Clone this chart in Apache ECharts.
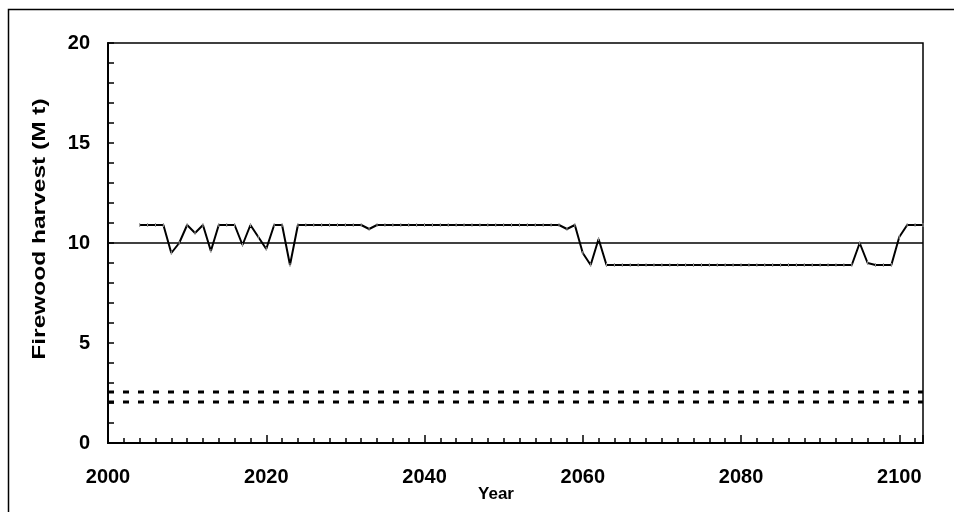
<!DOCTYPE html>
<html>
<head>
<meta charset="utf-8">
<script src="https://cdn.jsdelivr.net/npm/echarts@6/dist/echarts.min.js"></script>
<style>
html,body{margin:0;padding:0;background:#fff;}
#chart{width:954px;height:512px;}
</style>
</head>
<body>
<div id="chart"></div>
<script>
var years = [
 2004,2005,2006,2007,2008,2009,2010,2011,2012,2013,
 2014,2015,2016,2017,2018,2019,2020,2021,2022,2023,
 2024,2025,2026,2027,2028,2029,2030,2031,2032,2033,
 2034,2035,2036,2037,2038,2039,2040,2041,2042,2043,
 2044,2045,2046,2047,2048,2049,2050,2051,2052,2053,
 2054,2055,2056,2057,2058,2059,2060,2061,2062,2063,
 2064,2065,2066,2067,2068,2069,2070,2071,2072,2073,
 2074,2075,2076,2077,2078,2079,2080,2081,2082,2083,
 2084,2085,2086,2087,2088,2089,2090,2091,2092,2093,
 2094,2095,2096,2097,2098,2099,2100,2101,2102,2103
];
var harvest = [
 10.9,10.9,10.9,10.9,9.5,10.0,10.9,10.5,10.9,9.6,
 10.9,10.9,10.9,9.9,10.9,10.3,9.7,10.9,10.9,8.9,
 10.9,10.9,10.9,10.9,10.9,10.9,10.9,10.9,10.9,10.7,
 10.9,10.9,10.9,10.9,10.9,10.9,10.9,10.9,10.9,10.9,
 10.9,10.9,10.9,10.9,10.9,10.9,10.9,10.9,10.9,10.9,
 10.9,10.9,10.9,10.9,10.7,10.9,9.5,8.9,10.2,8.9,
 8.9,8.9,8.9,8.9,8.9,8.9,8.9,8.9,8.9,8.9,
 8.9,8.9,8.9,8.9,8.9,8.9,8.9,8.9,8.9,8.9,
 8.9,8.9,8.9,8.9,8.9,8.9,8.9,8.9,8.9,8.9,
 8.9,10.0,9.0,8.9,8.9,8.9,10.3,10.9,10.9,10.9
];
var refYears = [2000, 2103];
var solidRef = [10, 10];
var dashRefUpper = [2.55, 2.55];
var dashRefLower = [2.05, 2.05];
var xTickLabels = [2000, 2020, 2040, 2060, 2080, 2100];
var yTickLabels = [0, 5, 10, 15, 20];

function pairs(xs, ys){ return xs.map(function(x,i){ return [x, ys[i]]; }); }

var FONT = 'Liberation Sans';
var chart = echarts.init(document.getElementById('chart'), null, {renderer:'canvas'});
chart.setOption({
  animation:false,
  backgroundColor:'#fff',
  grid:{left:108, right:31, top:43, bottom:69, show:true, borderColor:'#000', borderWidth:1.5, backgroundColor:'transparent'},
  xAxis:{
    type:'value', min:2000, max:2103, interval:20,
    axisLine:{show:true, lineStyle:{color:'#000', width:2}},
    axisTick:{show:true, inside:true, length:8, lineStyle:{color:'#000', width:1.5}},
    minorTick:{show:true, splitNumber:10, length:5, lineStyle:{color:'#000', width:1.5}},
    splitLine:{show:false},
    axisLabel:{margin:24, fontFamily:FONT, fontWeight:'bold', fontSize:20, color:'#000',
      formatter:function(v){ return xTickLabels.indexOf(v) >= 0 ? String(v) : ''; }}
  },
  yAxis:{
    type:'value', min:0, max:20, interval:5,
    axisLine:{show:true, lineStyle:{color:'#000', width:2}},
    axisTick:{show:true, inside:true, length:6, lineStyle:{color:'#000', width:1.5}},
    minorTick:{show:true, splitNumber:5, length:6, lineStyle:{color:'#000', width:1.5}},
    splitLine:{show:false},
    axisLabel:{margin:18, fontFamily:FONT, fontWeight:'bold', fontSize:20, color:'#000',
      formatter:function(v){ return yTickLabels.indexOf(v) >= 0 ? String(v) : ''; }}
  },
  graphic:[
    {type:'rect', silent:true, z:-1, shape:{x:8.5, y:9.5, width:1200, height:1200},
      style:{fill:'none', stroke:'#000', lineWidth:1.5}},
    {type:'text', silent:true, x:40, y:229, rotation:Math.PI/2, scaleX:1.4,
      style:{text:'Firewood harvest (M t)', font:'bold 17.5px "Liberation Sans"', fill:'#000',
        align:'center', verticalAlign:'middle'}},
    {type:'text', silent:true, x:496, y:494,
      style:{text:'Year', font:'bold 17px "Liberation Sans"', fill:'#000',
        align:'center', verticalAlign:'middle'}}
  ],
  series:[
    {type:'line', data:pairs(refYears, solidRef), symbol:'none', silent:true,
      lineStyle:{color:'#000', width:1.5}, z:2},
    {type:'line', data:pairs(refYears, dashRefUpper), symbol:'none', silent:true,
      lineStyle:{color:'#000', width:3, type:[6,9]}, z:2},
    {type:'line', data:pairs(refYears, dashRefLower), symbol:'none', silent:true,
      lineStyle:{color:'#000', width:3, type:[6,9]}, z:2},
    {type:'line', data:pairs(years, harvest), symbol:'rect', symbolSize:[1,4], showSymbol:true,
      itemStyle:{color:'#999'}, silent:true,
      lineStyle:{color:'#000', width:2}, z:3}
  ]
});
</script>
</body>
</html>
